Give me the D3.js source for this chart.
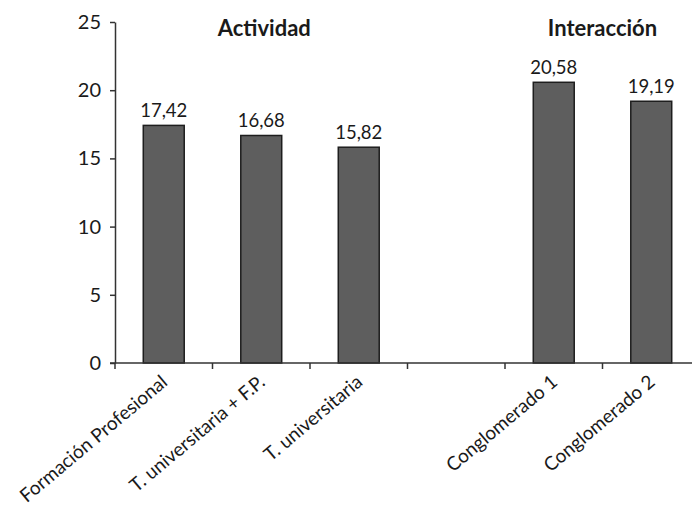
<!DOCTYPE html>
<html>
<head>
<meta charset="utf-8">
<script src="https://cdn.jsdelivr.net/npm/d3@7"></script>
<style>
  html, body { margin: 0; padding: 0; background: #fff; }
  svg { display: block; }
  text { font-family: Lato, "Open Sans", sans-serif; fill: #1a1a1a; }
</style>
</head>
<body>
<svg id="chart" width="692" height="507"></svg>
<script>
const categories = ["Formación Profesional", "T. universitaria + F.P.", "T. universitaria", "", "Conglomerado 1", "Conglomerado 2"];
const values = [17.42, 16.68, 15.82, null, 20.58, 19.19];
const valueLabels = ["17,42", "16,68", "15,82", "", "20,58", "19,19"];
const yTicks = [0, 5, 10, 15, 20, 25];
const groupTitles = ["Actividad", "Interacción"];
const groupSlots = [[0, 2], [4, 5]];

const svg = d3.select("#chart");
const mLeft = 115, mRight = 700, mTop = 22, mBottom = 363;

const slots = categories.map((c, i) => i);
const x = d3.scaleBand().domain(slots).range([mLeft, mRight]).padding(0);
const y = d3.scaleLinear().domain([0, 25]).range([mBottom, mTop]);
const barW = x.bandwidth() * 0.42;

// bars
svg.append("g").selectAll("rect")
  .data(slots.filter(i => values[i] != null))
  .join("rect")
  .attr("x", i => x(i) + x.bandwidth() / 2 - barW / 2)
  .attr("y", i => y(values[i]))
  .attr("width", barW)
  .attr("height", i => y(0) - y(values[i]))
  .attr("fill", "#5e5e5e")
  .attr("stroke", "#1e1e1e")
  .attr("stroke-width", 1.5);

// value labels
svg.append("g").selectAll("text")
  .data(slots.filter(i => values[i] != null))
  .join("text")
  .attr("x", i => x(i) + x.bandwidth() / 2)
  .attr("y", i => y(values[i]) - 8)
  .attr("text-anchor", "middle")
  .attr("font-size", 18.5)
  .text(i => valueLabels[i]);

// y axis
const yAxis = d3.axisLeft(y).tickValues(yTicks).tickSize(5).tickSizeOuter(0).tickFormat(d3.format("d"));
const gy = svg.append("g").attr("transform", `translate(${mLeft},0)`).call(yAxis);
gy.select(".domain").attr("stroke", "#333").attr("stroke-width", 1.5);
gy.selectAll(".tick line").attr("stroke", "#333").attr("stroke-width", 1.5);
gy.selectAll(".tick text").attr("font-size", 20).attr("font-family", "Lato, sans-serif").attr("fill", "#1a1a1a").attr("x", -14);

// x axis
const gx = svg.append("g").attr("transform", `translate(0,${mBottom})`);
gx.append("line").attr("x1", mLeft - 5).attr("x2", mRight).attr("y1", 0).attr("y2", 0)
  .attr("stroke", "#333").attr("stroke-width", 1.5);
gx.selectAll("line.tk").data(slots).join("line").attr("class", "tk")
  .attr("x1", i => x(i)).attr("x2", i => x(i)).attr("y1", 0).attr("y2", 6)
  .attr("stroke", "#333").attr("stroke-width", 1.5);
gx.selectAll("text").data(slots.filter(i => categories[i] !== "")).join("text")
  .attr("transform", i => `translate(${x(i) + x.bandwidth() / 2 + 5},${21}) rotate(-40)`)
  .attr("text-anchor", "end")
  .attr("font-size", 19)
  .text(i => categories[i]);

// group titles
svg.append("g").selectAll("text").data(groupTitles).join("text")
  .attr("x", (d, k) => {
    const [a, b] = groupSlots[k];
    return (x(a) + x(b) + x.bandwidth()) / 2 + (k === 0 ? 3 : 0);
  })
  .attr("y", 36)
  .attr("text-anchor", "middle")
  .attr("font-size", 22)
  .attr("font-weight", "bold")
  .text(d => d);
</script>
</body>
</html>
